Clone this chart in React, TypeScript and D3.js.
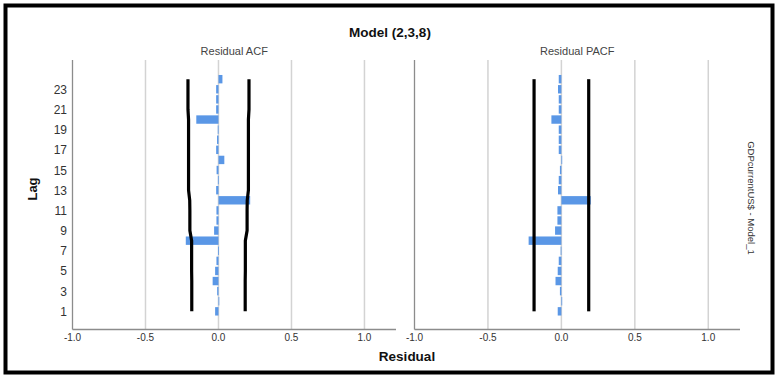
import * as d3 from "d3";

// lags 1..24
const lags = d3.range(1, 25);

// residual ACF
const acfValues = [
  -0.023, 0.002, -0.009, -0.04, -0.023, -0.014, -0.003, -0.224, -0.03, -0.014, -0.014, 0.217,
  -0.016, -0.004, -0.013, 0.04, -0.016, -0.01, -0.005, -0.152, -0.016, -0.016, -0.016, 0.027,
];

// residual PACF
const pacfValues = [
  -0.025, 0.002, -0.01, -0.04, -0.025, -0.018, -0.005, -0.223, -0.043, -0.027, -0.027, 0.2,
  -0.023, -0.018, -0.01, 0.0, -0.018, -0.018, -0.018, -0.068, -0.018, -0.018, -0.023, -0.018,
];

// confidence limits (± this value) per lag
const acfLimits = [
  0.183, 0.183, 0.183, 0.183, 0.184, 0.184, 0.184, 0.184, 0.196, 0.196, 0.196, 0.197,
  0.205, 0.205, 0.205, 0.205, 0.205, 0.205, 0.205, 0.205, 0.209, 0.209, 0.209, 0.209,
];
const pacfLimits = lags.map(() => 0.186);

const xTicks = [-1.0, -0.5, 0.0, 0.5, 1.0];
const yTicks = [1, 3, 5, 7, 9, 11, 13, 15, 17, 19, 21, 23];

const panels = [
  { title: "Residual ACF", values: acfValues, limits: acfLimits, left: 72.5, right: 396 },
  { title: "Residual PACF", values: pacfValues, limits: pacfLimits, left: 414.5, right: 740 },
];

const W = 779;
const H = 385;
const top = 60;
const bottom = 329.5;
const barColor = "#5A97E6";
const font = "'Liberation Sans', Arial, sans-serif";

export default function App() {
  const y = d3.scaleLinear().domain([-0.8, 25.9]).range([bottom, top]);
  const barH = 8.4;

  return (
    <>
      <style>{`body{margin:0}`}</style>
      <svg width={W} height={H} style={{ display: "block", background: "#fff" }} fontFamily={font}>
        <rect x={5.5} y={5.5} width={767} height={367} fill="#fff" stroke="#000" strokeWidth={4} />

        <text x={390} y={37} textAnchor="middle" fontSize={13.5} fontWeight="bold" fill="#111">
          Model (2,3,8)
        </text>

        {panels.map((p, pi) => {
          const x = d3.scaleLinear().domain([-1, 1.216]).range([p.left, p.right]);
          const limitLine = (sign: number) =>
            d3
              .line<number>()
              .x((d, i) => x(sign * p.limits[i]))
              .y((d) => y(d))(lags) as string;
          return (
            <g key={p.title}>
              <text x={(p.left + p.right) / 2} y={55} textAnchor="middle" fontSize={11} fill="#444">
                {p.title}
              </text>
              {xTicks.slice(1).map((t) => (
                <line key={t} x1={x(t)} x2={x(t)} y1={top} y2={bottom} stroke="#d3d3d3" strokeWidth={1.5} />
              ))}
              {p.values.map((v, i) => (
                <rect
                  key={i}
                  x={x(Math.min(0, v))}
                  width={Math.max(0.8, Math.abs(x(v) - x(0)))}
                  y={y(lags[i]) - barH / 2}
                  height={barH}
                  fill={barColor}
                />
              ))}
              <path d={limitLine(-1)} fill="none" stroke="#000" strokeWidth={3.2} />
              <path d={limitLine(1)} fill="none" stroke="#000" strokeWidth={3.2} />
              <line x1={p.left} x2={p.left} y1={top} y2={bottom} stroke="#8c8c8c" strokeWidth={1.3} />
              <line x1={p.left} x2={p.right} y1={bottom} y2={bottom} stroke="#8c8c8c" strokeWidth={1.3} />
              {xTicks.map((t) => (
                <text key={t} x={x(t)} y={341} textAnchor="middle" fontSize={10} fill="#333">
                  {t.toFixed(1)}
                </text>
              ))}
              {pi === 0 &&
                yTicks.map((t) => (
                  <text key={t} x={67} y={y(t) + 4.5} textAnchor="end" fontSize={12} fill="#333">
                    {t}
                  </text>
                ))}
            </g>
          );
        })}

        <text
          transform={`translate(37,189) rotate(-90)`}
          textAnchor="middle"
          fontSize={13}
          fontWeight="bold"
          fill="#111"
        >
          Lag
        </text>
        <text x={407} y={361} textAnchor="middle" fontSize={13.5} fontWeight="bold" fill="#111">
          Residual
        </text>
        <text
          transform={`translate(748,198) rotate(90)`}
          textAnchor="middle"
          fontSize={9.5}
          fill="#333"
        >
          GDPcurrentUS$ - Model_1
        </text>
      </svg>
    </>
  );
}
